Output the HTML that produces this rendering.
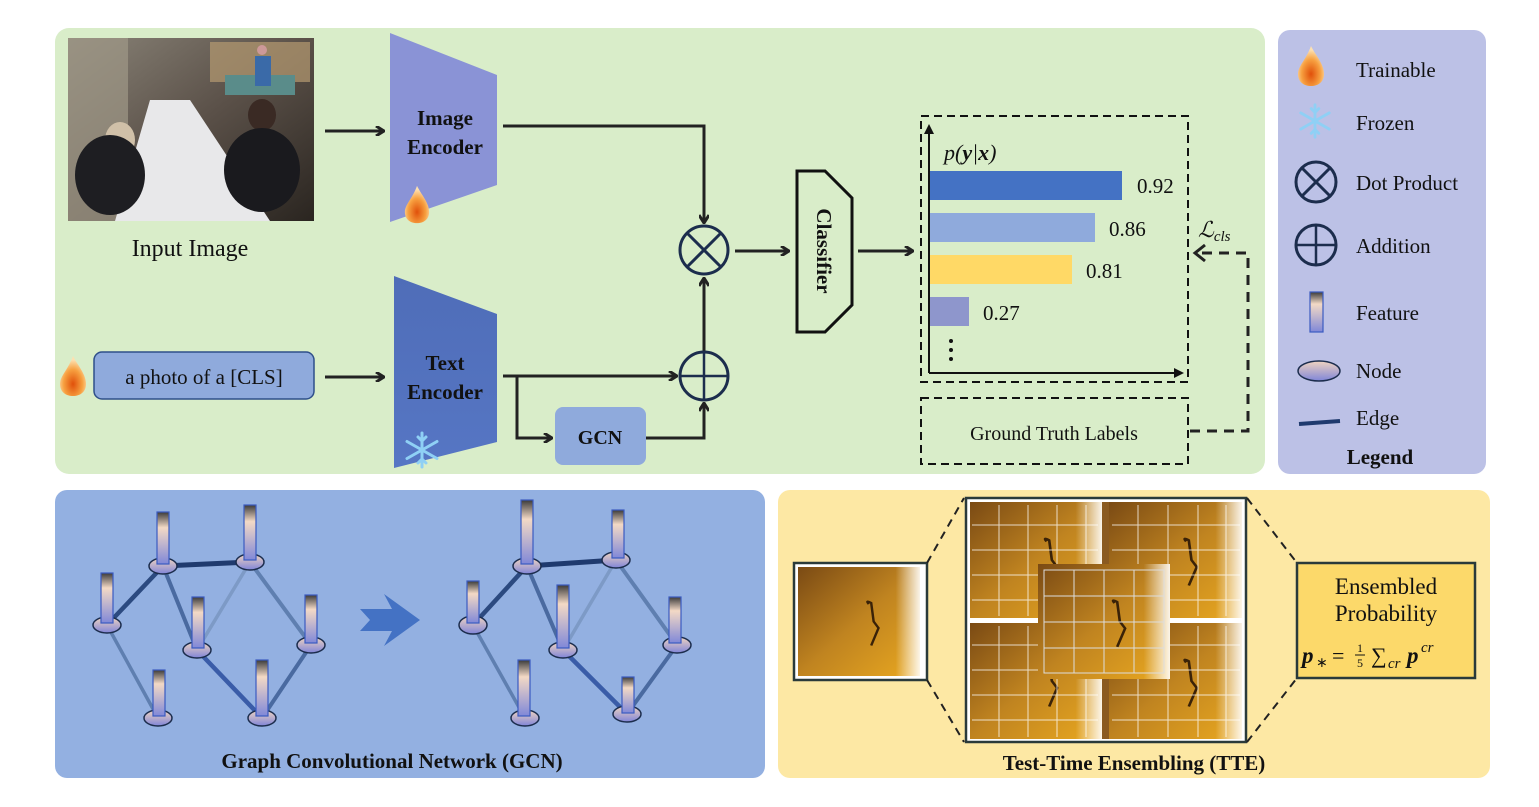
<!DOCTYPE html>
<html><head><meta charset="utf-8"><style>
html,body{margin:0;padding:0;background:#fff;width:1539px;height:807px;overflow:hidden}
svg{display:block}
text{font-family:"Liberation Serif",serif}
</style></head><body>
<svg width="1539" height="807" viewBox="0 0 1539 807" xmlns="http://www.w3.org/2000/svg">
<defs>
<marker id="ar" markerWidth="10" markerHeight="10" refX="8" refY="5" orient="auto" markerUnits="userSpaceOnUse"><path d="M1,0 L9,5 L1,10" fill="none" stroke="#222" stroke-width="3"/></marker>
<linearGradient id="feat" x1="0" y1="0" x2="0" y2="1"><stop offset="0" stop-color="#3a3a3a"/><stop offset="0.3" stop-color="#f3d9c5"/><stop offset="1" stop-color="#8088d8"/></linearGradient>
<linearGradient id="node" x1="0" y1="0" x2="0" y2="1"><stop offset="0" stop-color="#f0d4c0"/><stop offset="1" stop-color="#7f85d8"/></linearGradient>
<linearGradient id="txt" x1="0" y1="0" x2="0" y2="1"><stop offset="0" stop-color="#4f6db8"/><stop offset="1" stop-color="#5676c4"/></linearGradient>
<radialGradient id="fl" cx="0.5" cy="0.7" r="0.6"><stop offset="0" stop-color="#e0500a"/><stop offset="0.6" stop-color="#f7a040"/><stop offset="1" stop-color="#fde0b0"/></radialGradient>
<linearGradient id="her" x1="0" y1="0" x2="1" y2="1"><stop offset="0" stop-color="#7a4a14"/><stop offset="0.5" stop-color="#c08420"/><stop offset="1" stop-color="#e9a820"/></linearGradient>
<linearGradient id="herw" x1="0" y1="0" x2="1" y2="0"><stop offset="0.8" stop-color="#fff" stop-opacity="0"/><stop offset="1" stop-color="#fff" stop-opacity="0.9"/></linearGradient>
<linearGradient id="photo" x1="0" y1="0" x2="1" y2="1"><stop offset="0" stop-color="#8a8478"/><stop offset="0.5" stop-color="#5a5048"/><stop offset="1" stop-color="#2a2520"/></linearGradient>
<symbol id="flame" viewBox="0 0 30 40"><path d="M15,0 C20,10 28,18 28,28 C28,36 22,40 15,40 C8,40 2,36 2,28 C2,20 10,14 15,0Z" fill="url(#fl)"/></symbol>
<symbol id="flake" viewBox="-20 -20 40 40"><g stroke="#8fd0f5" stroke-width="3" stroke-linecap="round"><line x1="0" y1="-17" x2="0" y2="17"/><line x1="-15" y1="-8.5" x2="15" y2="8.5"/><line x1="-15" y1="8.5" x2="15" y2="-8.5"/><path d="M-4,-13 L0,-9 L4,-13 M-4,13 L0,9 L4,13" fill="none"/></g></symbol>
<g id="heron"><rect x="0" y="0" width="100" height="100" fill="url(#her)"/><rect x="0" y="0" width="100" height="100" fill="url(#herw)"/><path d="M58,34 Q55,30 60,33 L62,50 L66,56 L60,72" stroke="#3a2208" stroke-width="2" fill="none"/></g>
</defs>

<rect x="55" y="28" width="1210" height="446" rx="14" fill="#d9edc9"/>
<rect x="1278" y="30" width="208" height="444" rx="12" fill="#bcc1e6"/>
<rect x="55" y="490" width="710" height="288" rx="12" fill="#93b0e1"/>
<rect x="778" y="490" width="712" height="288" rx="12" fill="#fde8a4"/>

<!-- input image -->
<rect x="68" y="38" width="246" height="183" fill="url(#photo)"/>
<rect x="68" y="38" width="60" height="183" fill="#a09888" opacity="0.7"/>
<polygon points="150,100 190,100 270,221 115,221" fill="#e8e8ea"/>
<rect x="210" y="42" width="100" height="40" fill="#b59a70" opacity="0.7"/>
<rect x="225" y="75" width="70" height="20" fill="#5a8c8a"/>
<circle cx="262" cy="50" r="5" fill="#c99"/><rect x="255" y="56" width="16" height="30" fill="#3a6aa8"/>
<ellipse cx="120" cy="140" rx="15" ry="18" fill="#d0c0a8"/><ellipse cx="110" cy="175" rx="35" ry="40" fill="#1e1e22"/>
<ellipse cx="262" cy="115" rx="14" ry="16" fill="#3a2a24"/><ellipse cx="262" cy="170" rx="38" ry="42" fill="#1a1a1e"/>
<text x="190" y="256" font-size="24" text-anchor="middle" fill="#111">Input Image</text>

<polygon points="390,33 497,75 497,185 390,222" fill="#8a93d6"/>
<text x="445" y="125" font-size="21" font-weight="bold" text-anchor="middle" fill="#111">Image</text>
<text x="445" y="154" font-size="21" font-weight="bold" text-anchor="middle" fill="#111">Encoder</text>
<use href="#flame" x="403" y="182" width="28" height="45"/>
<line x1="325" y1="131" x2="383" y2="131" stroke="#222" stroke-width="3" marker-end="url(#ar)"/>

<use href="#flame" x="58" y="352" width="30" height="48"/>
<rect x="94" y="352" width="220" height="47" rx="8" fill="#8faadc" stroke="#2f4f8a" stroke-width="1.5"/>
<text x="204" y="384" font-size="21" text-anchor="middle" fill="#111">a photo of a [CLS]</text>
<line x1="325" y1="377" x2="383" y2="377" stroke="#222" stroke-width="3" marker-end="url(#ar)"/>

<polygon points="394,276 497,314 497,442 394,468" fill="url(#txt)"/>
<text x="445" y="370" font-size="21" font-weight="bold" text-anchor="middle" fill="#111">Text</text>
<text x="445" y="399" font-size="21" font-weight="bold" text-anchor="middle" fill="#111">Encoder</text>
<use href="#flake" x="402" y="430" width="40" height="40"/>

<polyline points="503,126 704,126 704,222" fill="none" stroke="#222" stroke-width="3" marker-end="url(#ar)"/>
<line x1="503" y1="376" x2="676" y2="376" stroke="#222" stroke-width="3" marker-end="url(#ar)"/>
<polyline points="517,376 517,438 551,438" fill="none" stroke="#222" stroke-width="3" marker-end="url(#ar)"/>
<rect x="555" y="407" width="91" height="58" rx="8" fill="#8faadc"/>
<text x="600" y="444" font-size="20" font-weight="bold" text-anchor="middle" fill="#111">GCN</text>
<polyline points="646,438 704,438 704,404" fill="none" stroke="#222" stroke-width="3" marker-end="url(#ar)"/>
<line x1="704" y1="351" x2="704" y2="279" stroke="#222" stroke-width="3" marker-end="url(#ar)"/>
<circle cx="704" cy="250" r="24" fill="none" stroke="#1c2d4d" stroke-width="3"/>
<line x1="687" y1="233" x2="721" y2="267" stroke="#1c2d4d" stroke-width="3"/><line x1="721" y1="233" x2="687" y2="267" stroke="#1c2d4d" stroke-width="3"/>
<circle cx="704" cy="376" r="24" fill="none" stroke="#1c2d4d" stroke-width="3"/>
<line x1="680" y1="376" x2="728" y2="376" stroke="#1c2d4d" stroke-width="2.5"/><line x1="704" y1="352" x2="704" y2="400" stroke="#1c2d4d" stroke-width="2.5"/>
<line x1="735" y1="251" x2="788" y2="251" stroke="#222" stroke-width="3" marker-end="url(#ar)"/>

<polygon points="797,171 825,171 852,198 852,305 825,332 797,332" fill="none" stroke="#111" stroke-width="3"/>
<text transform="translate(817,251) rotate(90)" font-size="21" font-weight="bold" text-anchor="middle" fill="#111">Classifier</text>
<line x1="858" y1="251" x2="912" y2="251" stroke="#222" stroke-width="3" marker-end="url(#ar)"/>

<rect x="921" y="116" width="267" height="266" fill="none" stroke="#111" stroke-width="2" stroke-dasharray="8,5"/>
<line x1="929" y1="373" x2="929" y2="130" stroke="#111" stroke-width="2"/>
<polygon points="929,124 924,134 934,134" fill="#111"/>
<line x1="929" y1="373" x2="1176" y2="373" stroke="#111" stroke-width="2"/>
<polygon points="1184,373 1174,368 1174,378" fill="#111"/>
<text x="944" y="160" font-size="22" font-style="italic" fill="#111">p(<tspan font-weight="bold">y</tspan>|<tspan font-weight="bold">x</tspan>)</text>
<rect x="930" y="171" width="192" height="29" fill="#4472c4"/><text x="1137" y="193" font-size="21" fill="#111">0.92</text>
<rect x="930" y="213" width="165" height="29" fill="#8faadc"/><text x="1109" y="236" font-size="21" fill="#111">0.86</text>
<rect x="930" y="255" width="142" height="29" fill="#ffd966"/><text x="1086" y="278" font-size="21" fill="#111">0.81</text>
<rect x="930" y="297" width="39" height="29" fill="#8e96cc"/><text x="983" y="320" font-size="21" fill="#111">0.27</text>
<circle cx="951" cy="341" r="2" fill="#111"/><circle cx="951" cy="350" r="2" fill="#111"/><circle cx="951" cy="359" r="2" fill="#111"/>
<rect x="921" y="398" width="267" height="66" fill="none" stroke="#111" stroke-width="2" stroke-dasharray="8,5"/>
<text x="1054" y="440" font-size="20" text-anchor="middle" fill="#111">Ground Truth Labels</text>
<polyline points="1190,431 1248,431 1248,253 1196,253" fill="none" stroke="#222" stroke-width="3" stroke-dasharray="10,7"/>
<path d="M1205,245 L1195,253 L1205,261" fill="none" stroke="#222" stroke-width="3"/>
<text x="1198" y="237" font-size="22" font-style="italic" fill="#111">ℒ<tspan font-size="15" dy="4">cls</tspan></text>

<use href="#flame" x="1296" y="42" width="30" height="48"/>
<text x="1356" y="77" font-size="21" fill="#111">Trainable</text>
<use href="#flake" x="1296" y="102" width="38" height="38"/>
<text x="1356" y="130" font-size="21" fill="#111">Frozen</text>
<circle cx="1316" cy="182" r="20" fill="none" stroke="#1c2d4d" stroke-width="3"/>
<line x1="1302" y1="168" x2="1330" y2="196" stroke="#1c2d4d" stroke-width="3"/><line x1="1330" y1="168" x2="1302" y2="196" stroke="#1c2d4d" stroke-width="3"/>
<text x="1356" y="190" font-size="21" fill="#111">Dot Product</text>
<circle cx="1316" cy="245" r="20" fill="none" stroke="#1c2d4d" stroke-width="3"/>
<line x1="1296" y1="245" x2="1336" y2="245" stroke="#1c2d4d" stroke-width="2.5"/><line x1="1316" y1="225" x2="1316" y2="265" stroke="#1c2d4d" stroke-width="2.5"/>
<text x="1356" y="253" font-size="21" fill="#111">Addition</text>
<rect x="1310" y="292" width="13" height="40" fill="url(#feat)" stroke="#3a5bc0" stroke-width="1.2"/>
<text x="1356" y="320" font-size="21" fill="#111">Feature</text>
<ellipse cx="1319" cy="371" rx="21" ry="10" fill="url(#node)" stroke="#1c2d4d" stroke-width="1.5"/>
<text x="1356" y="378" font-size="21" fill="#111">Node</text>
<line x1="1299" y1="424" x2="1340" y2="421" stroke="#1f3a6e" stroke-width="4"/>
<text x="1356" y="425" font-size="21" fill="#111">Edge</text>
<text x="1380" y="464" font-size="21" font-weight="bold" text-anchor="middle" fill="#111">Legend</text>

<!-- GCN graphs -->
<g stroke-linecap="round">
<line x1="163" y1="566" x2="250" y2="562" stroke="#1f3a6e" stroke-width="5"/>
<line x1="163" y1="566" x2="107" y2="625" stroke="#2c4a80" stroke-width="4.5"/>
<line x1="163" y1="566" x2="197" y2="650" stroke="#4a6aa0" stroke-width="4"/>
<line x1="250" y1="562" x2="197" y2="650" stroke="#7d9ac6" stroke-width="3.5"/>
<line x1="250" y1="562" x2="311" y2="645" stroke="#5f7fb0" stroke-width="4"/>
<line x1="107" y1="625" x2="158" y2="718" stroke="#5f7fb0" stroke-width="3.5"/>
<line x1="197" y1="650" x2="262" y2="718" stroke="#3a5ca8" stroke-width="4.5"/>
<line x1="311" y1="645" x2="262" y2="718" stroke="#4a6aa0" stroke-width="4"/>
</g>
<g fill="url(#node)" stroke="#1c2d4d" stroke-width="1.5">
<ellipse cx="163" cy="566" rx="14" ry="8"/><ellipse cx="250" cy="562" rx="14" ry="8"/><ellipse cx="107" cy="625" rx="14" ry="8"/><ellipse cx="197" cy="650" rx="14" ry="8"/><ellipse cx="311" cy="645" rx="14" ry="8"/><ellipse cx="158" cy="718" rx="14" ry="8"/><ellipse cx="262" cy="718" rx="14" ry="8"/>
</g>
<g fill="url(#feat)" stroke="#3a5bc0" stroke-width="1.2">
<rect x="157" y="512" width="12" height="52"/><rect x="244" y="505" width="12" height="55"/><rect x="101" y="573" width="12" height="50"/><rect x="192" y="597" width="12" height="51"/><rect x="305" y="595" width="12" height="48"/><rect x="153" y="670" width="12" height="46"/><rect x="256" y="660" width="12" height="56"/>
</g>
<polygon points="360,609 392,609 384,594 420,620 384,646 392,631 360,631 370,620" fill="#4472c4"/>
<g stroke-linecap="round">
<line x1="527" y1="566" x2="616" y2="560" stroke="#1f3a6e" stroke-width="5"/>
<line x1="527" y1="566" x2="473" y2="625" stroke="#2c4a80" stroke-width="4.5"/>
<line x1="527" y1="566" x2="563" y2="650" stroke="#4a6aa0" stroke-width="4"/>
<line x1="616" y1="560" x2="563" y2="650" stroke="#7d9ac6" stroke-width="3.5"/>
<line x1="616" y1="560" x2="677" y2="645" stroke="#5f7fb0" stroke-width="4"/>
<line x1="473" y1="625" x2="525" y2="718" stroke="#5f7fb0" stroke-width="3.5"/>
<line x1="563" y1="650" x2="627" y2="714" stroke="#3a5ca8" stroke-width="4.5"/>
<line x1="677" y1="645" x2="627" y2="714" stroke="#4a6aa0" stroke-width="4"/>
</g>
<g fill="url(#node)" stroke="#1c2d4d" stroke-width="1.5">
<ellipse cx="527" cy="566" rx="14" ry="8"/><ellipse cx="616" cy="560" rx="14" ry="8"/><ellipse cx="473" cy="625" rx="14" ry="9"/><ellipse cx="563" cy="650" rx="14" ry="8"/><ellipse cx="677" cy="645" rx="14" ry="8"/><ellipse cx="525" cy="718" rx="14" ry="8"/><ellipse cx="627" cy="714" rx="14" ry="8"/>
</g>
<g fill="url(#feat)" stroke="#3a5bc0" stroke-width="1.2">
<rect x="521" y="500" width="12" height="64"/><rect x="612" y="510" width="12" height="48"/><rect x="467" y="581" width="12" height="42"/><rect x="557" y="585" width="12" height="63"/><rect x="669" y="597" width="12" height="46"/><rect x="518" y="660" width="12" height="56"/><rect x="622" y="677" width="12" height="36"/>
</g>
<text x="392" y="768" font-size="21" font-weight="bold" text-anchor="middle" fill="#111">Graph Convolutional Network (GCN)</text>

<!-- TTE -->
<rect x="794" y="563" width="133" height="117" fill="#fff" stroke="#2a3a3a" stroke-width="2.5"/>
<svg x="798" y="567" width="122" height="109" viewBox="0 0 100 100" preserveAspectRatio="none"><use href="#heron"/></svg>
<rect x="966" y="498" width="280" height="244" fill="#fff" stroke="#2a3a3a" stroke-width="2.5"/>
<svg x="970" y="502" width="132" height="116" viewBox="0 0 100 100" preserveAspectRatio="none"><use href="#heron"/></svg>
<svg x="1109" y="502" width="133" height="116" viewBox="0 0 100 100" preserveAspectRatio="none"><use href="#heron"/></svg>
<svg x="970" y="623" width="132" height="116" viewBox="0 0 100 100" preserveAspectRatio="none"><use href="#heron"/></svg>
<svg x="1109" y="623" width="133" height="116" viewBox="0 0 100 100" preserveAspectRatio="none"><use href="#heron"/></svg>
<rect x="1102" y="502" width="7" height="237" fill="#8a5a20"/>
<g stroke="#fff" stroke-opacity="0.75" stroke-width="1">
<path d="M972,525 H1098 M972,550 H1098 M972,575 H1098 M972,600 H1098 M999,505 V616 M1028,505 V616 M1057,505 V616 M1086,505 V616"/>
<path d="M1112,525 H1240 M1112,550 H1240 M1112,575 H1240 M1112,600 H1240 M1138,505 V616 M1168,505 V616 M1198,505 V616 M1226,505 V616"/>
<path d="M972,645 H1098 M972,670 H1098 M972,695 H1098 M972,720 H1098 M999,626 V737 M1028,626 V737 M1057,626 V737 M1086,626 V737"/>
<path d="M1112,645 H1240 M1112,670 H1240 M1112,695 H1240 M1112,720 H1240 M1138,626 V737 M1168,626 V737 M1198,626 V737 M1226,626 V737"/>
</g>
<svg x="1038" y="564" width="132" height="115" viewBox="0 0 100 100" preserveAspectRatio="none"><use href="#heron"/></svg>
<g stroke="#ddd" stroke-width="1" fill="none"><rect x="1044" y="570" width="120" height="103"/><path d="M1044,596 H1164 M1044,622 H1164 M1044,648 H1164 M1074,570 V673 M1104,570 V673 M1134,570 V673"/></g>
<g stroke="#222" stroke-width="2" stroke-dasharray="8,6" fill="none">
<line x1="927" y1="563" x2="964" y2="498"/><line x1="927" y1="680" x2="964" y2="742"/>
<line x1="1247" y1="498" x2="1297" y2="563"/><line x1="1247" y1="742" x2="1297" y2="678"/>
</g>
<rect x="1297" y="563" width="178" height="115" fill="#fcd96a" stroke="#2a3a3a" stroke-width="2.5"/>
<text x="1386" y="594" font-size="23" text-anchor="middle" fill="#111">Ensembled</text>
<text x="1386" y="621" font-size="23" text-anchor="middle" fill="#111">Probability</text>
<text x="1302" y="663" font-size="23" font-weight="bold" font-style="italic" fill="#111">p</text>
<text x="1316" y="667" font-size="14" fill="#111">∗</text>
<text x="1332" y="663" font-size="22" fill="#111">=</text>
<text x="1357" y="652" font-size="12" fill="#111">1</text>
<line x1="1355" y1="655" x2="1365" y2="655" stroke="#111" stroke-width="1"/>
<text x="1357" y="667" font-size="12" fill="#111">5</text>
<text x="1371" y="663" font-size="22" fill="#111">∑</text>
<text x="1388" y="668" font-size="15" font-style="italic" fill="#111">cr</text>
<text x="1407" y="663" font-size="23" font-weight="bold" font-style="italic" fill="#111">p</text>
<text x="1421" y="652" font-size="15" font-style="italic" fill="#111">cr</text>
<text x="1134" y="770" font-size="21" font-weight="bold" text-anchor="middle" fill="#111">Test-Time Ensembling (TTE)</text>
</svg>
</body></html>
